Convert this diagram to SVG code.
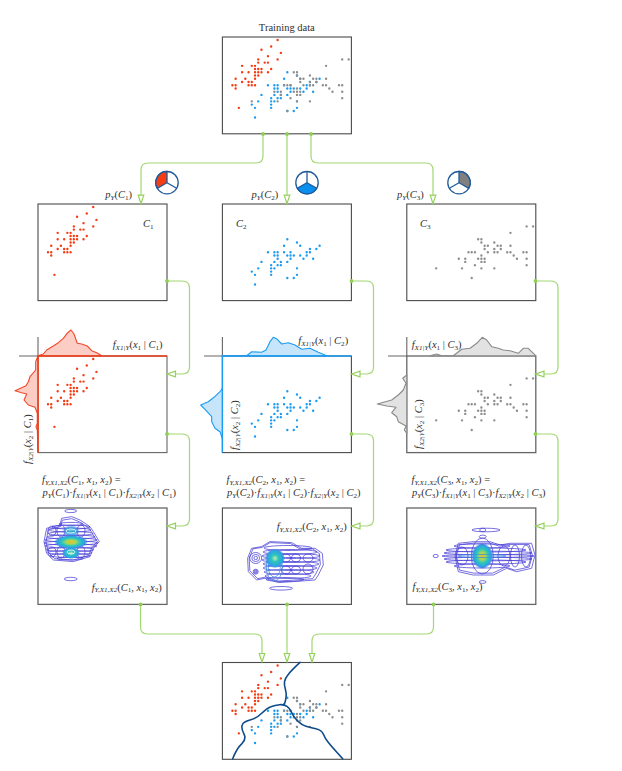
<svg xmlns="http://www.w3.org/2000/svg" xmlns:xlink="http://www.w3.org/1999/xlink" width="622" height="771" viewBox="0 0 622 771">
<style>
text{font-family:"Liberation Serif","Times New Roman",serif;font-size:10.5px;fill:#303030}
.i{font-style:italic}
.s{font-size:7.1px}
.frame{fill:#fff;stroke:#4a4a4a;stroke-width:1.1}
.dots{fill:none;stroke-linecap:round;stroke-width:.74}
.red{stroke:#f63c12}.blue{stroke:#1b9cf2}.grey{stroke:#8e8e8e}
.link{fill:none;stroke:#a3d873;stroke-width:1.2}
.head{fill:#fff;stroke:#96d05e;stroke-width:1.2}
.pt{fill:#8fce55}
.axis{fill:none;stroke:#666;stroke-width:1.1}
.c{vector-effect:non-scaling-stroke;stroke-linejoin:round;fill:none}
.ct{stroke-width:.75;fill:none}
.v1{stroke:#4a3fd6}.v3{stroke:#3a8ee0}
.pie{fill:#fff;stroke:#1f5a99;stroke-width:1.3}
.b{fill:none;stroke:#0f4c8a;stroke-width:1.6;stroke-linejoin:round;stroke-linecap:round}
</style>
<defs>
<g id="setosa" transform="matrix(3.23 0 0 -3.23 -128.89 145.12)"><path class="dots red" d="M51 35h0M49 30h0M47 32h0M46 31h0M50 36h0M54 39h0M46 34h0M50 34h0M44 29h0M49 31h0M54 37h0M48 34h0M48 30h0M43 30h0M58 40h0M57 44h0M57 38h0M51 38h0M54 34h0M51 37h0M46 36h0M51 33h0M50 30h0M52 35h0M52 34h0M48 31h0M52 41h0M55 42h0M50 32h0M55 35h0M49 36h0M44 30h0M51 34h0M50 35h0M45 23h0M44 32h0M53 37h0M50 33h0"/></g>
<g id="versicolor" transform="matrix(3.23 0 0 -3.23 -128.89 145.12)"><path class="dots blue" d="M70 32h0M64 32h0M69 31h0M55 23h0M65 28h0M57 28h0M63 33h0M49 24h0M66 29h0M52 27h0M50 20h0M59 30h0M60 22h0M61 29h0M56 29h0M67 31h0M56 30h0M58 27h0M62 22h0M56 25h0M59 32h0M61 28h0M63 25h0M64 29h0M66 30h0M68 28h0M67 30h0M60 29h0M57 26h0M55 24h0M60 27h0M54 30h0M60 34h0M63 23h0M55 25h0M55 26h0M61 30h0M58 26h0M50 23h0M56 27h0M57 30h0M57 29h0M62 29h0M51 25h0"/></g>
<g id="virginica" transform="matrix(3.23 0 0 -3.23 -128.89 145.12)"><path class="dots grey" d="M63 33h0M58 27h0M71 30h0M63 29h0M65 30h0M76 30h0M49 25h0M73 29h0M67 25h0M72 36h0M65 32h0M64 27h0M68 30h0M57 25h0M58 28h0M64 32h0M77 38h0M77 26h0M60 22h0M69 32h0M56 28h0M77 28h0M63 27h0M67 33h0M72 32h0M62 28h0M61 30h0M64 28h0M72 30h0M74 28h0M79 38h0M63 28h0M61 26h0M77 30h0M63 34h0M64 31h0M60 30h0M69 31h0M67 31h0M68 32h0M67 30h0M63 25h0M62 34h0M59 30h0"/></g>
<path id="head" class="head" d="M0 0L-2.8 -8.5L2.8 -8.5Z"/>
<path id="env1" class="c" d="M-9.7-24L.3-25.7L8.7-22.3L18.7-15.7L22-10.7L28-.7L22 6L18.7 14.3L2 19.3L-18 17.7L-24.7 11L-27.3-.7L-24.7-14L-11.3-17.3Z"/>
<path id="env2" class="c" d="M-26.7 0L-22.7-10L-12.7-11.7L-4.3-16.7L17.3-15.7L27.3-10L40.7-10L48-5L49 6.7L44 16.7L40.7 21.7L19 23.3L4 24.3L-9.3 20L-17.7 21.7L-26 13.3Z"/>
<path id="env3" class="c" d="M-27.3 0L-24-12.7L-9-14.3L7.7-14.3L17.7-11L27.7-12.7L49.3-12.7L52.7-1L49.3 12.3L34.3 15.7L24.3 12.3L11 19L-9 19L-24 15.7Z"/>
<g id="lob"><circle class="c" r="1"/><circle class="c" r=".65"/><circle class="c" r=".3"/></g>
<radialGradient id="hot"><stop offset="0" stop-color="#f6b81c"/><stop offset=".28" stop-color="#a6d85c"/><stop offset=".55" stop-color="#2cc6bc"/><stop offset=".82" stop-color="#2f9fe6"/><stop offset="1" stop-color="#3f6fe0" stop-opacity="0"/></radialGradient>
<radialGradient id="warm"><stop offset="0" stop-color="#c8ecb0"/><stop offset=".35" stop-color="#2cc6bc"/><stop offset=".8" stop-color="#2f9fe6"/><stop offset="1" stop-color="#3f6fe0" stop-opacity="0"/></radialGradient>
<radialGradient id="cool"><stop offset="0" stop-color="#2cc6bc"/><stop offset=".6" stop-color="#2f9fe6"/><stop offset="1" stop-color="#3f6fe0" stop-opacity="0"/></radialGradient>
</defs>

<g id="connectors">
<path class="link" d="M263 134V156Q263 163 256 163H148Q141 163 141 170V196"/>
<path class="link" d="M287 134V196"/>
<path class="link" d="M311 134V156Q311 163 318 163H426Q433 163 433 170V196"/>
<path class="link" d="M167 281H182Q189.5 281 189.5 288V367Q189.5 374 182 374H175"/>
<path class="link" d="M351.5 281H366.500Q373.500 281 373.500 288V367Q373.500 374 366.500 374H360"/>
<path class="link" d="M535.500 281H551Q558 281 558 288V367Q558 374 551 374H544"/>
<path class="link" d="M167 434H182Q189.5 434 189.5 441V519Q189.5 526 182 526H175"/>
<path class="link" d="M351.5 434H366.500Q373.500 434 373.500 441V519Q373.500 526 366.500 526H360"/>
<path class="link" d="M535.500 434H551Q558 434 558 441V519Q558 526 551 526H544"/>
<path class="link" d="M140.500 604V627Q140.500 634 147.500 634H255Q262 634 262 641V654"/>
<path class="link" d="M287 604V654"/>
<path class="link" d="M433.500 604V627Q433.500 634 426.500 634H319Q312 634 312 641V654"/>
</g>

<g id="panel-train"><rect class="frame" x="222.400" y="37" width="129" height="96.800"/><use href="#setosa" transform="translate(222.400 37)"/><use href="#versicolor" transform="translate(222.400 37)"/><use href="#virginica" transform="translate(222.400 37)"/>
<text x="286.800" y="31" text-anchor="middle">Training data</text></g>

<g id="prior-1"><rect class="frame" x="38" y="204" width="129" height="96.600"/><use href="#setosa" transform="translate(38 204)"/>
<text x="105.300" y="198"><tspan class="i">p</tspan><tspan class="i s" dy="1.5">Y</tspan><tspan dy="-1.5">(</tspan><tspan class="i">C</tspan><tspan class="s" dy="1.500">1</tspan><tspan dy="-1.5">)</tspan></text>
<text x="143" y="227"><tspan class="i">C</tspan><tspan class="s" dy="1.500">1</tspan></text>
<circle class="pie" cx="167" cy="182.700" r="11.200"/><path d="M167 182.700V171.500A11.200 11.200 0 0 0 157.300 188.300Z" fill="#f63c12" stroke="#1f5a99" stroke-width="1.300"/><path d="M167 182.700L176.700 188.300" class="pie"/></g>
<g id="prior-2"><rect class="frame" x="222.400" y="204" width="129" height="96.600"/><use href="#versicolor" transform="translate(222.400 204)"/>
<text x="251.500" y="198"><tspan class="i">p</tspan><tspan class="i s" dy="1.5">Y</tspan><tspan dy="-1.5">(</tspan><tspan class="i">C</tspan><tspan class="s" dy="1.500">2</tspan><tspan dy="-1.5">)</tspan></text>
<text x="236" y="227"><tspan class="i">C</tspan><tspan class="s" dy="1.500">2</tspan></text>
<circle class="pie" cx="307" cy="182.700" r="11.200"/><path d="M307 182.700L316.700 188.300A11.200 11.200 0 0 1 297.300 188.300Z" fill="#0a8fee" stroke="#1f5a99" stroke-width="1.300"/><path d="M307 182.700V171.500" class="pie"/></g>
<g id="prior-3"><rect class="frame" x="406.800" y="204" width="129" height="96.600"/><use href="#virginica" transform="translate(406.800 204)"/>
<text x="397" y="198"><tspan class="i">p</tspan><tspan class="i s" dy="1.5">Y</tspan><tspan dy="-1.5">(</tspan><tspan class="i">C</tspan><tspan class="s" dy="1.500">3</tspan><tspan dy="-1.5">)</tspan></text>
<text x="420" y="227"><tspan class="i">C</tspan><tspan class="s" dy="1.500">3</tspan></text>
<circle class="pie" cx="459" cy="182.700" r="11.200"/><path d="M459 182.700V171.500A11.200 11.200 0 0 1 468.700 188.300Z" fill="#808080" stroke="#1f5a99" stroke-width="1.300"/><path d="M459 182.700L449.300 188.300" class="pie"/></g>

<g id="likelihood-1"><rect class="frame" x="38" y="356" width="129" height="96.600" style="stroke:#666"/>
<path class="axis" d="M19 356H38V337"/>
<path d="M38 355.700L43.300 354L46.700 350L53.300 346L58.300 342.700L63.300 338.300L67.700 332.700L71 330L74 334L77.300 343.300L81.700 344L87.300 346L91.700 350.700L96.700 352.700L101.700 355.700Z" fill="#fbcdc4" stroke="#f2492a" stroke-width="1.100" stroke-linejoin="round"/>
<path d="M38 356L35.700 361.700L35.700 370L30 376.700L28.300 381.700L26 385.700L15 390.700L21.700 392.700L26.700 394L24 400L28.300 405L35 407.300L37.300 413.300L37.300 423.300L36 426.700L37.300 430L38 452Z" fill="#fbcdc4" stroke="#f2492a" stroke-width="1.100" stroke-linejoin="round"/>
<path d="M167 356H38V452.600" fill="none" stroke="#ea3f1c" stroke-width="1.400"/>
<use href="#setosa" transform="translate(38 356)"/>
<text x="112.700" y="348"><tspan class="i">f</tspan><tspan class="i s" dy="1.5">X1|Y</tspan><tspan dy="-1.5">(</tspan><tspan class="i">x</tspan><tspan class="s" dy="1.5">1</tspan><tspan dy="-1.5"> | </tspan><tspan class="i">C</tspan><tspan class="s" dy="1.5">1</tspan><tspan dy="-1.5">)</tspan></text>
<text transform="translate(31 464) rotate(-90)"><tspan class="i">f</tspan><tspan class="i s" dy="1.5">X2|Y</tspan><tspan dy="-1.5">(</tspan><tspan class="i">x</tspan><tspan class="s" dy="1.5">2</tspan><tspan dy="-1.5"> | </tspan><tspan class="i">C</tspan><tspan class="s" dy="1.5">1</tspan><tspan dy="-1.5">)</tspan></text>
<text x="42" y="483"><tspan class="i">f</tspan><tspan class="i s" dy="1.5">Y,X1,X2</tspan><tspan dy="-1.5">(</tspan><tspan class="i">C</tspan><tspan class="s" dy="1.5">1</tspan><tspan dy="-1.5">, </tspan><tspan class="i">x</tspan><tspan class="s" dy="1.5">1</tspan><tspan dy="-1.5">, </tspan><tspan class="i">x</tspan><tspan class="s" dy="1.5">2</tspan><tspan dy="-1.5">) =</tspan></text>
<text x="42.500" y="496"><tspan class="i">p</tspan><tspan class="i s" dy="1.5">Y</tspan><tspan dy="-1.5">(</tspan><tspan class="i">C</tspan><tspan class="s" dy="1.5">1</tspan><tspan dy="-1.5">)·</tspan><tspan class="i">f</tspan><tspan class="i s" dy="1.5">X1|Y</tspan><tspan dy="-1.5">(</tspan><tspan class="i">x</tspan><tspan class="s" dy="1.5">1</tspan><tspan dy="-1.5"> | </tspan><tspan class="i">C</tspan><tspan class="s" dy="1.5">1</tspan><tspan dy="-1.5">)·</tspan><tspan class="i">f</tspan><tspan class="i s" dy="1.5">X2|Y</tspan><tspan dy="-1.5">(</tspan><tspan class="i">x</tspan><tspan class="s" dy="1.5">2</tspan><tspan dy="-1.5"> | </tspan><tspan class="i">C</tspan><tspan class="s" dy="1.5">1</tspan><tspan dy="-1.5">)</tspan></text></g>

<g id="likelihood-2"><rect class="frame" x="222.400" y="356" width="129" height="96.600"/>
<path class="axis" d="M204 356H222.400V337"/>
<path d="M222.400 355.700H246.700L251.700 351.700L261.700 352.300L266 350L270 341.700L273.300 337.300L277.300 339.300L281.700 344L288.300 342.700L295 345L301.700 349.300L310 348.300L318.300 352.300L326.700 355.700Z" fill="#c6e5fa" stroke="#1b9cf2" stroke-width="1.100" stroke-linejoin="round"/>
<path d="M222.400 388.300L220 391.700L214 397.300L208.300 401.700L200.700 405L205 409.300L211.700 416.700L211.700 421.700L215 428.300L220 431.700L222.400 439Z" fill="#c6e5fa" stroke="#1b9cf2" stroke-width="1.100" stroke-linejoin="round"/>
<path d="M351.500 356H222.400V452.600" fill="none" stroke="#1b9cf2" stroke-width="1.400"/>
<use href="#versicolor" transform="translate(222.400 356)"/>
<text x="298.300" y="344.300"><tspan class="i">f</tspan><tspan class="i s" dy="1.5">X1|Y</tspan><tspan dy="-1.5">(</tspan><tspan class="i">x</tspan><tspan class="s" dy="1.5">1</tspan><tspan dy="-1.5"> | </tspan><tspan class="i">C</tspan><tspan class="s" dy="1.5">2</tspan><tspan dy="-1.5">)</tspan></text>
<text transform="translate(238 450) rotate(-90)"><tspan class="i">f</tspan><tspan class="i s" dy="1.5">X2|Y</tspan><tspan dy="-1.5">(</tspan><tspan class="i">x</tspan><tspan class="s" dy="1.5">2</tspan><tspan dy="-1.5"> | </tspan><tspan class="i">C</tspan><tspan class="s" dy="1.5">2</tspan><tspan dy="-1.5">)</tspan></text>
<text x="226.500" y="483"><tspan class="i">f</tspan><tspan class="i s" dy="1.5">Y,X1,X2</tspan><tspan dy="-1.5">(</tspan><tspan class="i">C</tspan><tspan class="s" dy="1.5">2</tspan><tspan dy="-1.5">, </tspan><tspan class="i">x</tspan><tspan class="s" dy="1.5">1</tspan><tspan dy="-1.5">, </tspan><tspan class="i">x</tspan><tspan class="s" dy="1.5">2</tspan><tspan dy="-1.5">) =</tspan></text>
<text x="227" y="496"><tspan class="i">p</tspan><tspan class="i s" dy="1.5">Y</tspan><tspan dy="-1.5">(</tspan><tspan class="i">C</tspan><tspan class="s" dy="1.5">2</tspan><tspan dy="-1.5">)·</tspan><tspan class="i">f</tspan><tspan class="i s" dy="1.5">X1|Y</tspan><tspan dy="-1.5">(</tspan><tspan class="i">x</tspan><tspan class="s" dy="1.5">1</tspan><tspan dy="-1.5"> | </tspan><tspan class="i">C</tspan><tspan class="s" dy="1.5">2</tspan><tspan dy="-1.5">)·</tspan><tspan class="i">f</tspan><tspan class="i s" dy="1.5">X2|Y</tspan><tspan dy="-1.5">(</tspan><tspan class="i">x</tspan><tspan class="s" dy="1.5">2</tspan><tspan dy="-1.5"> | </tspan><tspan class="i">C</tspan><tspan class="s" dy="1.5">2</tspan><tspan dy="-1.5">)</tspan></text></g>

<g id="likelihood-3"><rect class="frame" x="406.800" y="356" width="129" height="96.600" style="stroke:#666;stroke-width:1.300"/>
<path class="axis" d="M388 356H406.800V337"/>
<path d="M430 355.700L436.700 354L441.700 355.700H453.300L461.700 349.300L470 348.300L476.700 343.300L482.300 337.300L486.700 340L491.700 346.700L498.300 348.300L503.300 350L510 350.700L518.300 353.300L523.300 348.300L528.300 348.300L535.700 355.700Z" fill="#e2e2e2" stroke="#8a8a8a" stroke-width="1.100" stroke-linejoin="round"/>
<path d="M406.800 375L402.700 378.300L406 383.300L403.300 390L398.300 395L391.700 400L377.300 404L386.700 406L396 407.300L391.700 412.700L396.700 416.700L398.300 421.700L406 426L404.300 430L406.800 433.300Z" fill="#e2e2e2" stroke="#8a8a8a" stroke-width="1.100" stroke-linejoin="round"/>
<use href="#virginica" transform="translate(406.800 356)"/>
<text x="411.700" y="348"><tspan class="i">f</tspan><tspan class="i s" dy="1.5">X1|Y</tspan><tspan dy="-1.5">(</tspan><tspan class="i">x</tspan><tspan class="s" dy="1.5">1</tspan><tspan dy="-1.5"> | </tspan><tspan class="i">C</tspan><tspan class="s" dy="1.5">3</tspan><tspan dy="-1.5">)</tspan></text>
<text transform="translate(422 449) rotate(-90)"><tspan class="i">f</tspan><tspan class="i s" dy="1.5">X2|Y</tspan><tspan dy="-1.5">(</tspan><tspan class="i">x</tspan><tspan class="s" dy="1.5">2</tspan><tspan dy="-1.5"> | </tspan><tspan class="i">C</tspan><tspan class="s" dy="1.5">3</tspan><tspan dy="-1.5">)</tspan></text>
<text x="411.500" y="483"><tspan class="i">f</tspan><tspan class="i s" dy="1.5">Y,X1,X2</tspan><tspan dy="-1.5">(</tspan><tspan class="i">C</tspan><tspan class="s" dy="1.5">3</tspan><tspan dy="-1.5">, </tspan><tspan class="i">x</tspan><tspan class="s" dy="1.5">1</tspan><tspan dy="-1.5">, </tspan><tspan class="i">x</tspan><tspan class="s" dy="1.5">2</tspan><tspan dy="-1.5">) =</tspan></text>
<text x="412" y="496"><tspan class="i">p</tspan><tspan class="i s" dy="1.5">Y</tspan><tspan dy="-1.5">(</tspan><tspan class="i">C</tspan><tspan class="s" dy="1.5">3</tspan><tspan dy="-1.5">)·</tspan><tspan class="i">f</tspan><tspan class="i s" dy="1.5">X1|Y</tspan><tspan dy="-1.5">(</tspan><tspan class="i">x</tspan><tspan class="s" dy="1.5">1</tspan><tspan dy="-1.5"> | </tspan><tspan class="i">C</tspan><tspan class="s" dy="1.5">3</tspan><tspan dy="-1.5">)·</tspan><tspan class="i">f</tspan><tspan class="i s" dy="1.5">X2|Y</tspan><tspan dy="-1.5">(</tspan><tspan class="i">x</tspan><tspan class="s" dy="1.5">2</tspan><tspan dy="-1.5"> | </tspan><tspan class="i">C</tspan><tspan class="s" dy="1.5">3</tspan><tspan dy="-1.5">)</tspan></text></g>

<g id="joint-1"><rect class="frame" x="38" y="508" width="129" height="96.400" style="stroke:#666;stroke-width:1.300"/>
<g class="ct v1"><use href="#env1" transform="translate(71.300 542.300)"/><use href="#env1" transform="translate(71.300 542.300) scale(.93 .92)"/>
<ellipse cx="70.700" cy="511" rx="6" ry="1.600"/><ellipse cx="70.700" cy="579" rx="6.500" ry="1.700"/>
<ellipse cx="71" cy="524" rx="12" ry="1.600"/><ellipse cx="71" cy="527" rx="19" ry="2"/><ellipse cx="70" cy="530" rx="21" ry="2"/><ellipse cx="71" cy="533.500" rx="22" ry="2"/><ellipse cx="71" cy="537" rx="24" ry="2"/><ellipse cx="71" cy="540" rx="26" ry="2"/><ellipse cx="71" cy="543" rx="27" ry="2"/><ellipse cx="71" cy="546" rx="26" ry="2"/><ellipse cx="70" cy="549.500" rx="24" ry="2"/><ellipse cx="70" cy="552.500" rx="22" ry="2"/><ellipse cx="70" cy="555.500" rx="20" ry="2"/><ellipse cx="70" cy="558.500" rx="13" ry="1.500"/>
<ellipse cx="52" cy="531" rx="4" ry="5"/><ellipse cx="61" cy="531" rx="4" ry="6"/><ellipse cx="81" cy="531" rx="4" ry="6"/><ellipse cx="52" cy="552" rx="4" ry="5"/><ellipse cx="61" cy="552" rx="4" ry="6"/><ellipse cx="81" cy="552" rx="4" ry="6"/></g>
<ellipse cx="71" cy="542" rx="17" ry="7" fill="url(#hot)"/><ellipse cx="71" cy="553" rx="9" ry="6" fill="url(#warm)"/><ellipse cx="71" cy="531" rx="9" ry="6" fill="url(#cool)" opacity=".8"/>
<g class="ct" stroke="#fff" stroke-width=".5"><ellipse cx="71" cy="531" rx="5" ry="2"/><ellipse cx="71" cy="552" rx="4" ry="2"/></g>
<text x="91.700" y="590.500"><tspan class="i">f</tspan><tspan class="i s" dy="1.5">Y,X1,X2</tspan><tspan dy="-1.5">(</tspan><tspan class="i">C</tspan><tspan class="s" dy="1.5">1</tspan><tspan dy="-1.5">, </tspan><tspan class="i">x</tspan><tspan class="s" dy="1.5">1</tspan><tspan dy="-1.5">, </tspan><tspan class="i">x</tspan><tspan class="s" dy="1.5">2</tspan><tspan dy="-1.5">)</tspan></text></g>

<g id="joint-2"><rect class="frame" x="222.400" y="508" width="129" height="96.400"/>
<g class="ct v1"><use href="#env2" transform="translate(274.300 558.300)"/><use href="#env2" transform="translate(274.300 558.300) scale(.94)"/>
<ellipse cx="281" cy="588.300" rx="11.500" ry="1.800"/>
<use href="#lob" transform="translate(255.700 558) scale(6 5.500)"/><use href="#lob" transform="translate(255.700 571.700) scale(2.500 2.500)"/>
<ellipse cx="288" cy="548" rx="24" ry="2.500"/><ellipse cx="290" cy="552" rx="27" ry="2.500"/><ellipse cx="291" cy="556" rx="29" ry="2.500"/><ellipse cx="291" cy="560" rx="29" ry="2.500"/><ellipse cx="291" cy="564" rx="28" ry="2.500"/><ellipse cx="290" cy="568" rx="27" ry="2.500"/><ellipse cx="289" cy="572" rx="25" ry="2.500"/><ellipse cx="288" cy="576" rx="23" ry="2.500"/><ellipse cx="285" cy="579.500" rx="19" ry="2"/>
<ellipse cx="286" cy="558" rx="4.500" ry="4"/><ellipse cx="296" cy="558" rx="4.500" ry="4"/><ellipse cx="308" cy="558" rx="5" ry="4"/><ellipse cx="286" cy="570" rx="4.500" ry="4"/><ellipse cx="296" cy="570" rx="4.500" ry="4"/><ellipse cx="308" cy="569" rx="5" ry="5"/></g>
<g class="ct v3"><ellipse cx="274.300" cy="567" rx="8" ry="14"/><ellipse cx="274.300" cy="567" rx="6" ry="10"/></g>
<ellipse cx="275" cy="558.300" rx="10" ry="10" fill="url(#warm)"/>
<text x="276.700" y="530"><tspan class="i">f</tspan><tspan class="i s" dy="1.5">Y,X1,X2</tspan><tspan dy="-1.5">(</tspan><tspan class="i">C</tspan><tspan class="s" dy="1.5">2</tspan><tspan dy="-1.5">, </tspan><tspan class="i">x</tspan><tspan class="s" dy="1.5">1</tspan><tspan dy="-1.5">, </tspan><tspan class="i">x</tspan><tspan class="s" dy="1.5">2</tspan><tspan dy="-1.5">)</tspan></text></g>

<g id="joint-3"><rect class="frame" x="406.800" y="508" width="129" height="96.400" style="stroke:#666;stroke-width:1.300"/>
<g class="ct v1"><use href="#env3" transform="translate(482.300 556)"/><use href="#env3" transform="translate(482.300 556) scale(.95 .9)"/>
<ellipse cx="486" cy="530" rx="14" ry="1.800"/><ellipse cx="482.700" cy="530" rx="3" ry="1.800"/><ellipse cx="482.700" cy="536.700" rx="3.500" ry="1.600"/><ellipse cx="482.700" cy="582" rx="3.500" ry="1.400"/><ellipse cx="435.700" cy="556" rx="2.600" ry="1.600"/>
<ellipse cx="482" cy="546" rx="28" ry="2"/><ellipse cx="486" cy="550" rx="40" ry="2"/><ellipse cx="488" cy="553" rx="44" ry="1.800"/><ellipse cx="488" cy="556" rx="46" ry="1.500"/><ellipse cx="488" cy="559" rx="44" ry="1.800"/><ellipse cx="486" cy="562" rx="40" ry="2"/><ellipse cx="482" cy="566" rx="28" ry="2"/>
<ellipse cx="504" cy="556" rx="6" ry="10"/><ellipse cx="515" cy="556" rx="4.500" ry="11"/><ellipse cx="526" cy="556" rx="4.500" ry="11"/><ellipse cx="462" cy="556" rx="6" ry="9"/>
<use href="#lob" transform="translate(482.300 556) scale(11 18)"/></g>
<ellipse cx="482.300" cy="556" rx="11" ry="13" fill="url(#hot)"/>
<g class="ct" stroke="#3a8ee0" stroke-width=".5"><ellipse cx="482" cy="556" rx="24" ry="1.500"/></g>
<text x="412.500" y="590"><tspan class="i">f</tspan><tspan class="i s" dy="1.5">Y,X1,X2</tspan><tspan dy="-1.5">(</tspan><tspan class="i">C</tspan><tspan class="s" dy="1.5">3</tspan><tspan dy="-1.5">, </tspan><tspan class="i">x</tspan><tspan class="s" dy="1.5">1</tspan><tspan dy="-1.5">, </tspan><tspan class="i">x</tspan><tspan class="s" dy="1.5">2</tspan><tspan dy="-1.5">)</tspan></text></g>

<g id="panel-decision"><rect class="frame" x="222.400" y="662.500" width="129" height="96.800"/><use href="#setosa" transform="translate(222.400 662.500)"/><use href="#versicolor" transform="translate(222.400 662.500)"/><use href="#virginica" transform="translate(222.400 662.500)"/>
<path class="b" d="M300 662.300Q291.700 670 288.400 674.200Q285 678.300 284.500 681.700Q284 685 285.400 689.200Q286.700 693.300 285.900 698.300Q285 703.300 284 704.300"/>
<path class="b" d="M232.700 758.700Q236.700 748.300 241.700 743.800Q246.700 739.300 243.900 733.800Q241 728.300 242.200 725Q243.300 721.700 250 720Q256.700 718.300 261.700 713.300Q266.700 708.300 270.900 706.700Q275 705 279.500 704.700Q284 704.300 287 706.300Q290 708.300 291.700 712.500Q293.300 716.700 297.500 720.900Q301.700 725 305.900 726.200Q310 727.300 315.900 728.700Q321.700 730 323.400 734.200Q325 738.300 328.400 742.500Q331.700 746.700 342.700 758.700"/>
</g>

<g id="connector-ends">
<use href="#head" transform="translate(141 203.700)"/><use href="#head" transform="translate(287 203.700)"/><use href="#head" transform="translate(433 203.700)"/>
<use href="#head" transform="translate(167 374) rotate(90)"/><use href="#head" transform="translate(351.500 374) rotate(90)"/><use href="#head" transform="translate(535.500 374) rotate(90)"/>
<use href="#head" transform="translate(167 526) rotate(90)"/><use href="#head" transform="translate(351.500 526) rotate(90)"/><use href="#head" transform="translate(535.500 526) rotate(90)"/>
<use href="#head" transform="translate(262 662)"/><use href="#head" transform="translate(287 662)"/><use href="#head" transform="translate(312 662)"/>
<circle class="pt" cx="263" cy="134" r="1.900"/><circle class="pt" cx="287" cy="134" r="1.900"/><circle class="pt" cx="311" cy="134" r="1.900"/>
<circle class="pt" cx="167" cy="281" r="1.900"/><circle class="pt" cx="351.500" cy="281" r="1.900"/><circle class="pt" cx="535.500" cy="281" r="1.900"/>
<circle class="pt" cx="167" cy="434" r="1.900"/><circle class="pt" cx="351.500" cy="434" r="1.900"/><circle class="pt" cx="535.500" cy="434" r="1.900"/>
<circle class="pt" cx="140.500" cy="604.400" r="1.900"/><circle class="pt" cx="287" cy="604.400" r="1.900"/><circle class="pt" cx="433.500" cy="604.400" r="1.900"/>
</g>
</svg>
